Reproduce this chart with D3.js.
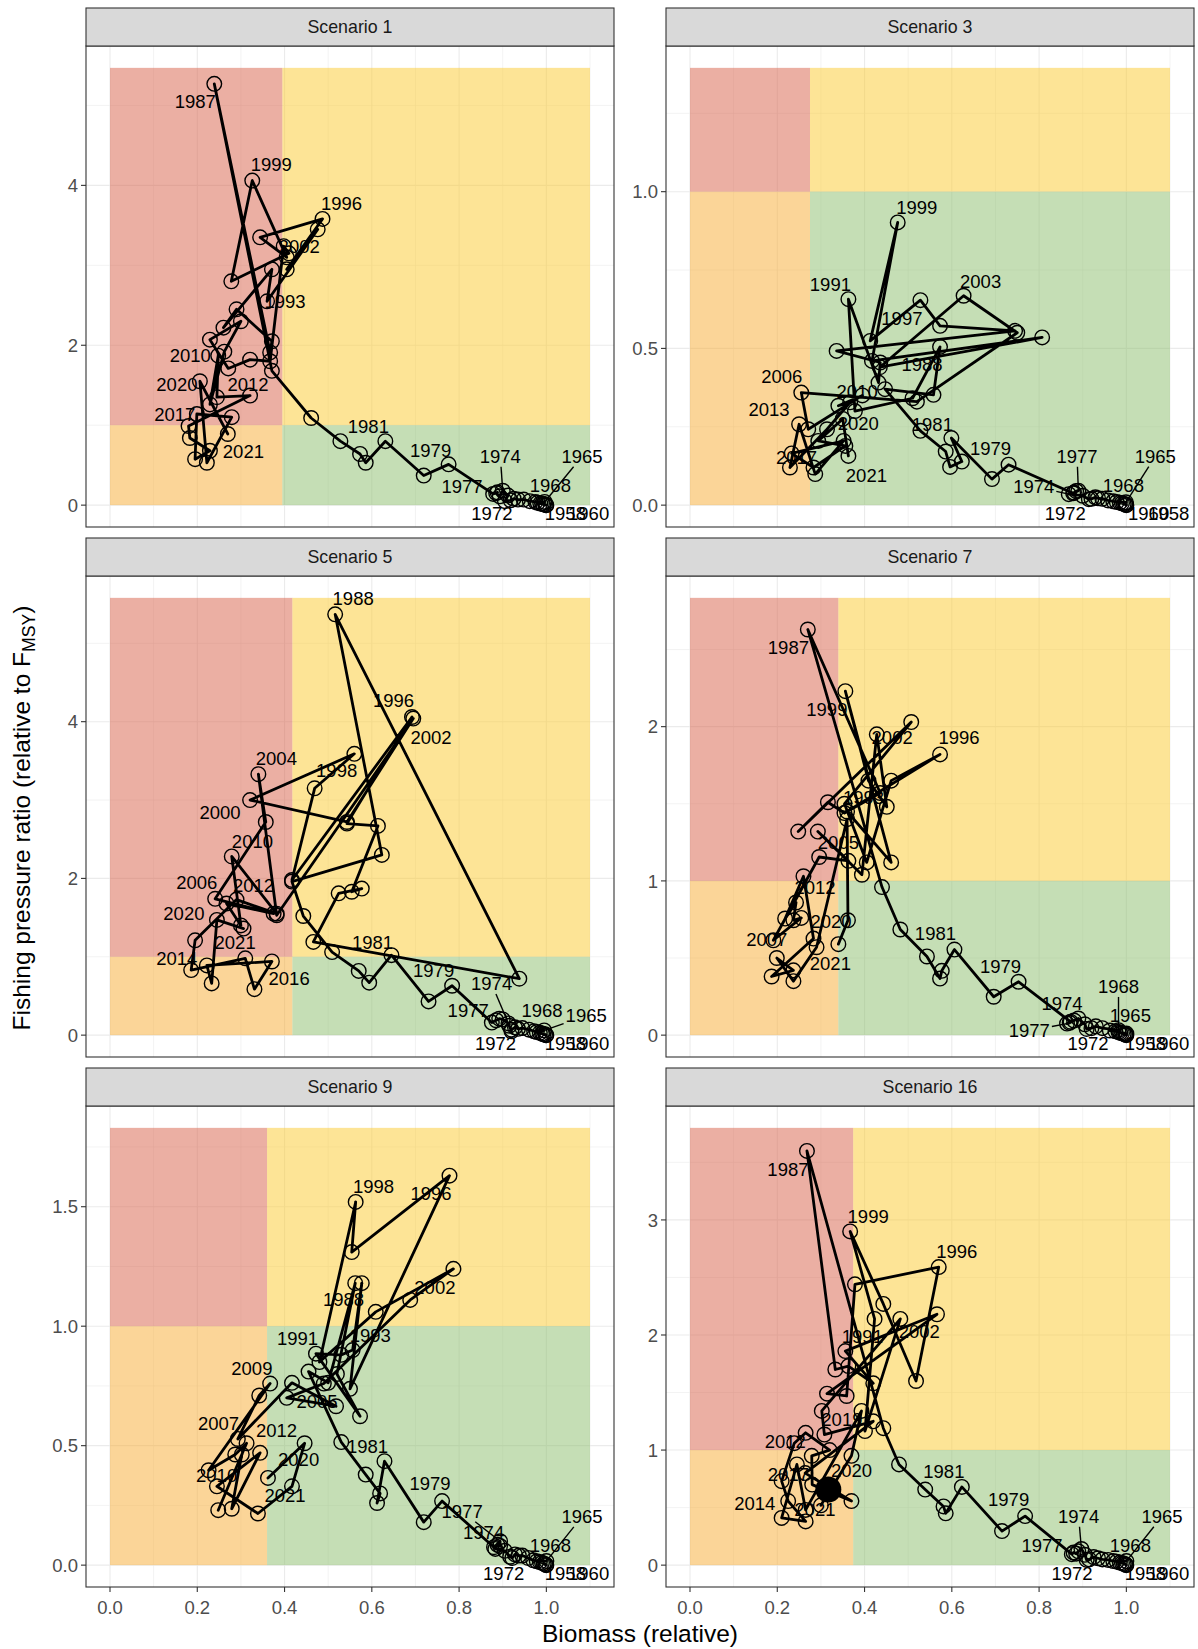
<!DOCTYPE html>
<html><head><meta charset="utf-8">
<script src="https://cdn.jsdelivr.net/npm/d3@7"></script>
<style>
body{margin:0;background:#fff}
text{font-family:"Liberation Sans",Arial,Helvetica,sans-serif}
</style>
</head><body>
<svg id="c" width="1198" height="1649"></svg>
<script>
// ---------------- DATA ----------------
const years = [1958,1959,1960,1961,1962,1963,1964,1965,1966,1967,1968,1969,1970,1971,1972,1973,
1974,1975,1976,1977,1978,1979,1980,1981,1982,1983,1984,1985,1986,1987,1988,1989,
1990,1991,1992,1993,1994,1995,1996,1997,1998,1999,2000,2001,2002,2003,2004,2005,
2006,2007,2008,2009,2010,2011,2012,2013,2014,2015,2016,2017,2018,2019,2020,2021];

const scenarioNames = ["Scenario 1","Scenario 3","Scenario 5","Scenario 7","Scenario 9","Scenario 16"];

// [relative biomass, fishing pressure ratio] by year
const scen1 = [
[1.000,0.00],[0.997,0.01],[0.999,0.00],[0.993,0.01],[0.990,0.02],[0.986,0.02],[0.980,0.03],[0.996,0.04],
[0.975,0.04],[0.962,0.05],[0.948,0.07],[0.935,0.07],[0.925,0.08],[0.918,0.06],[0.905,0.05],[0.912,0.12],
[0.900,0.18],[0.893,0.11],[0.885,0.15],[0.888,0.16],[0.878,0.14],[0.776,0.51],[0.719,0.37],[0.631,0.80],
[0.586,0.53],[0.573,0.64],[0.528,0.80],[0.461,1.09],[0.371,1.68],[0.239,5.27],[0.367,1.91],[0.371,2.05],
[0.290,2.45],[0.260,2.22],[0.371,2.95],[0.360,2.55],[0.476,3.45],[0.405,2.95],[0.487,3.58],[0.344,3.35],
[0.405,3.10],[0.326,4.06],[0.278,2.80],[0.410,3.15],[0.398,3.24],[0.367,1.80],[0.321,1.82],[0.271,1.71],
[0.229,2.07],[0.300,2.30],[0.262,1.92],[0.229,1.26],[0.248,1.87],[0.245,1.35],[0.321,1.37],[0.180,0.99],
[0.183,0.84],[0.229,0.68],[0.195,0.575],[0.199,1.14],[0.279,1.10],[0.222,0.53],[0.206,1.55],[0.270,0.89]];

const scen3 = [
[1.000,0.000],[0.997,0.003],[0.999,0.001],[0.994,0.004],[0.990,0.006],[0.985,0.008],[0.978,0.010],[0.999,0.009],
[0.970,0.012],[0.958,0.015],[0.945,0.020],[0.935,0.022],[0.929,0.025],[0.920,0.020],[0.914,0.019],[0.900,0.030],
[0.868,0.035],[0.880,0.040],[0.885,0.045],[0.890,0.046],[0.878,0.038],[0.730,0.129],[0.692,0.083],[0.599,0.214],
[0.623,0.139],[0.596,0.122],[0.586,0.171],[0.528,0.237],[0.447,0.370],[0.558,0.352],[0.573,0.505],[0.510,0.341],
[0.378,0.300],[0.363,0.657],[0.432,0.391],[0.436,0.455],[0.336,0.492],[0.745,0.556],[0.573,0.572],[0.528,0.654],
[0.413,0.524],[0.476,0.902],[0.417,0.460],[0.807,0.535],[0.435,0.440],[0.627,0.668],[0.750,0.550],[0.520,0.330],
[0.255,0.359],[0.271,0.242],[0.395,0.350],[0.340,0.317],[0.367,0.328],[0.314,0.242],[0.229,0.120],[0.250,0.258],
[0.287,0.099],[0.352,0.205],[0.233,0.165],[0.283,0.120],[0.356,0.189],[0.294,0.205],[0.350,0.275],[0.363,0.157]];

const scen5 = [
[1.000,0.00],[0.997,0.01],[0.999,0.00],[0.993,0.01],[0.990,0.02],[0.985,0.03],[0.978,0.04],[0.995,0.06],
[0.972,0.05],[0.960,0.07],[0.945,0.09],[0.935,0.08],[0.928,0.10],[0.920,0.07],[0.920,0.05],[0.915,0.12],
[0.913,0.15],[0.900,0.20],[0.892,0.21],[0.885,0.19],[0.875,0.16],[0.784,0.63],[0.730,0.43],[0.645,1.02],
[0.594,0.67],[0.570,0.82],[0.509,1.06],[0.443,1.52],[0.417,1.96],[0.623,2.30],[0.516,5.37],[0.938,0.72],
[0.466,1.19],[0.524,1.81],[0.577,1.87],[0.554,1.83],[0.614,2.67],[0.543,2.70],[0.692,4.06],[0.417,1.98],
[0.469,3.15],[0.560,3.59],[0.321,3.00],[0.543,2.72],[0.695,4.04],[0.382,1.53],[0.340,3.33],[0.357,2.72],
[0.241,1.74],[0.375,1.55],[0.267,1.68],[0.300,1.40],[0.279,2.28],[0.382,1.55],[0.290,1.73],[0.195,1.21],
[0.186,0.83],[0.310,0.98],[0.331,0.587],[0.371,0.94],[0.222,0.89],[0.233,0.66],[0.245,1.47],[0.306,1.36]];

const scen7 = [
[1.000,0.000],[0.997,0.005],[0.999,0.002],[0.994,0.008],[0.990,0.012],[0.986,0.015],[0.982,0.020],[1.000,0.010],
[0.975,0.025],[0.962,0.030],[0.982,0.032],[0.945,0.045],[0.930,0.057],[0.920,0.045],[0.909,0.040],[0.905,0.070],
[0.890,0.108],[0.880,0.095],[0.870,0.080],[0.864,0.075],[0.872,0.087],[0.753,0.346],[0.696,0.249],[0.606,0.555],
[0.577,0.417],[0.573,0.367],[0.543,0.510],[0.482,0.685],[0.440,0.960],[0.270,2.630],[0.436,1.570],[0.354,1.440],
[0.316,1.510],[0.248,1.320],[0.507,2.030],[0.354,1.500],[0.405,1.120],[0.461,1.650],[0.573,1.820],[0.360,1.450],
[0.461,1.120],[0.356,2.230],[0.409,1.650],[0.451,1.480],[0.428,1.950],[0.394,1.040],[0.293,1.320],[0.363,1.130],
[0.296,1.155],[0.191,0.615],[0.255,0.760],[0.237,0.745],[0.243,0.860],[0.218,0.756],[0.260,1.030],[0.283,0.626],
[0.187,0.380],[0.237,0.420],[0.199,0.500],[0.237,0.350],[0.290,0.570],[0.360,1.400],[0.362,0.745],[0.340,0.590]];

const scen9 = [
[1.000,0.000],[0.997,0.004],[0.999,0.001],[0.994,0.006],[0.990,0.010],[0.985,0.013],[0.978,0.016],[1.000,0.017],
[0.970,0.020],[0.958,0.030],[0.945,0.040],[0.937,0.040],[0.928,0.045],[0.922,0.030],[0.917,0.035],[0.905,0.060],
[0.883,0.068],[0.888,0.085],[0.894,0.080],[0.894,0.100],[0.880,0.075],[0.761,0.268],[0.719,0.180],[0.629,0.435],
[0.612,0.260],[0.619,0.300],[0.586,0.379],[0.530,0.515],[0.455,0.810],[0.500,0.763],[0.562,1.180],[0.520,0.800],
[0.573,0.623],[0.472,0.885],[0.530,0.880],[0.556,0.900],[0.577,1.180],[0.550,0.738],[0.778,1.630],[0.554,1.310],
[0.563,1.520],[0.480,0.850],[0.609,1.060],[0.787,1.240],[0.688,1.110],[0.490,0.760],[0.405,0.700],[0.518,0.665],
[0.417,0.763],[0.293,0.528],[0.342,0.710],[0.367,0.760],[0.226,0.397],[0.287,0.463],[0.313,0.510],[0.248,0.230],
[0.302,0.463],[0.279,0.236],[0.344,0.470],[0.245,0.330],[0.339,0.216],[0.417,0.330],[0.446,0.510],[0.362,0.365]];

const scen16 = [
[1.000,0.000],[0.997,0.008],[0.999,0.003],[0.994,0.012],[0.990,0.018],[0.985,0.022],[0.978,0.030],[1.000,0.035],
[0.970,0.035],[0.958,0.045],[0.945,0.050],[0.935,0.060],[0.925,0.070],[0.915,0.050],[0.909,0.045],[0.905,0.090],
[0.897,0.140],[0.890,0.120],[0.885,0.100],[0.879,0.110],[0.875,0.095],[0.768,0.426],[0.715,0.296],[0.623,0.680],
[0.586,0.450],[0.581,0.510],[0.539,0.657],[0.479,0.875],[0.443,1.190],[0.268,3.600],[0.333,1.700],[0.363,1.730],
[0.420,1.580],[0.356,1.860],[0.566,2.180],[0.314,1.490],[0.359,1.470],[0.378,2.440],[0.570,2.590],[0.518,1.600],
[0.443,2.270],[0.367,2.900],[0.423,2.140],[0.401,1.165],[0.482,2.140],[0.302,1.340],[0.308,1.135],[0.420,1.250],
[0.264,0.800],[0.370,0.557],[0.280,0.700],[0.279,0.950],[0.320,1.000],[0.265,1.150],[0.239,1.060],[0.210,0.730],
[0.225,0.557],[0.265,0.380],[0.210,0.410],[0.245,0.875],[0.265,0.480],[0.393,1.340],[0.370,0.950],[0.300,0.520]];

// highlighted (filled) point in Scenario 16
const scen16Highlight = [[0.317,0.657]];

// reference zones: biomass limit, F limit, extents
const bLimit = [0.395,0.275,0.418,0.340,0.360,0.374];
const fLimit = 1.0;
const zoneRight = 1.1;
const zoneTop = [5.47,1.395,5.58,2.835,1.83,3.80];

// ticks
const xTicks = [0,0.2,0.4,0.6,0.8,1.0];
const xTickLabels = ["0.0","0.2","0.4","0.6","0.8","1.0"];
const yTicks = [[0,2,4],[0,0.5,1],[0,2,4],[0,1,2],[0,0.5,1,1.5],[0,1,2,3]];
const yTickLabels = [["0","2","4"],["0.0","0.5","1.0"],["0","2","4"],["0","1","2"],["0.0","0.5","1.0","1.5"],["0","1","2","3"]];

// ---------------- LAYOUT (label nudges in px: year, dx, dy, leader) ----------------
const labelLayout = [
 [[1987,-19,17,0],[1999,19,-16.5,0],[1996,19,-16,0],[2002,15.5,0,0],[1993,18,0,0],[2010,-28,0,0],[2020,-23,3.5,0],[2012,-2,-11,0],[2017,-22,0,0],[2021,15.6,17.5,0],[1981,-17,-15,0],[1979,-18,-14.5,0],[1977,-35.5,-6.5,0],[1974,-2.4,-34.3,1],[1968,26.7,-14.4,0],[1965,37.4,-45.5,1],[1972,-13,12.3,0],[1958,19,8.3,0],[1960,42.7,8.3,0]],
 [[1999,19,-15,0],[1991,-18,-15,0],[2003,17,-14,0],[1997,-18.5,18,0],[1988,-18,17,0],[2006,-19.5,-16.5,0],[2010,7,-11,0],[2013,-30,-15,0],[2020,15.5,4,0],[2017,-17,-10,0],[2021,18,19,0],[1981,-19,-13.6,0],[1979,-18,-16.6,0],[1977,-1.3,-34.3,1],[1974,-35,-8,1],[1965,29.4,-46,1],[1968,21,-14,0],[1972,-23.5,14.3,0],[1960,22.7,8.6,0],[1958,42.3,8.3,0]],
 [[1988,18,-16.4,0],[1996,-18.4,-16.4,0],[2002,17.7,18.3,0],[1998,22,-17.7,0],[2004,18,-15.6,0],[2000,-30,12.5,0],[2010,20.7,-14.7,0],[2006,-18.4,-16.6,0],[2012,17,-14,0],[2020,-33,-7,0],[2021,-8.4,13.6,0],[2014,-14.4,-11.3,0],[2016,34.7,-10.4,0],[1981,-19,-13,0],[1979,-18.5,-15.3,0],[1974,-16.8,-39.6,1],[1977,-28,-10,0],[1968,19.7,-18,0],[1965,42,-14.7,1],[1972,-16,12.5,0],[1958,19,8.6,0],[1960,42.7,8.6,0]],
 [[1987,-19.4,17.4,0],[1999,-18.5,18,0],[2002,15.4,3.4,0],[1996,19,-16.7,0],[1993,19,-6.4,0],[2005,-10,-19,0],[2012,11.6,10.6,0],[2020,-17,1.6,0],[2007,-6.6,-1,0],[2021,-8,19,0],[1981,-19,-15.7,0],[1979,-18,-15.3,0],[1974,-16.3,-15.3,0],[1977,-37.7,7.2,1],[1968,0,-43.5,1],[1965,4,-18,0],[1972,1.4,14.8,0],[1958,19,8.6,0],[1960,42.7,8.9,0]],
 [[1998,17.8,-16,0],[1996,-18.5,18,0],[1988,-11.7,16.4,0],[2002,24.7,-13,0],[1991,-18.5,-15.5,0],[1993,17.6,-15.2,0],[2009,-18.3,-15.4,0],[2005,-19,-4.7,0],[2007,-19.4,-15.8,0],[2012,30,-13.4,0],[2020,-6,16,0],[2010,8,4.6,0],[2021,17,17,0],[1981,-17,-15.3,0],[1979,-12,-18,0],[1977,-38,-29.7,1],[1974,-11.7,-16.3,0],[1965,35.7,-44.5,1],[1968,28,-10.7,0],[1972,-6.5,16.3,0],[1958,19,8,0],[1960,42.7,8.3,0]],
 [[1987,-19,18,0],[1999,18,-15,0],[1996,18,-15.4,0],[2002,19,12.5,0],[1991,17,-14.4,0],[2019,-19.6,8.8,0],[2012,-9,-2,0],[2020,0,14.3,0],[2017,-8.5,10.3,0],[2014,-33.4,2,0],[2021,-6,4,0],[1981,-18,-15.4,0],[1979,-16.5,-16.3,0],[1974,-2.8,-32.5,1],[1977,-31.5,-7.4,0],[1968,28,-14.2,0],[1965,35.7,-44.6,1],[1972,-14.6,13.2,0],[1958,19,8,0],[1960,42.7,8.3,0]]
];

const series = [scen1,scen3,scen5,scen7,scen9,scen16];
const highlights = [[],[],[],[],[],scen16Highlight];

// ---------------- DRAW ----------------
const svg = d3.select("#c");
const colX = [86,666], rowY = [46,576,1106], PW = 528, PH = 481, STRIP = 38;
const FONT_LAB = 18.5, FONT_TICK = 18.5, FONT_STRIP = 17.8, FONT_TITLE = 24.5;
const zoneColors = {red:"#D75F47", yellow:"#FBC92D", orange:"#F7AB31", green:"#8BBD6B"};
const defs = svg.append("defs");

scenarioNames.forEach((name,i)=>{
  const col = i%2, row = Math.floor(i/2);
  const x0 = colX[col], y0 = rowY[row];
  const M = zoneTop[i];
  const x = d3.scaleLinear().domain([-0.055,1.155]).range([x0,x0+PW]);
  const y = d3.scaleLinear().domain([-0.05*M,1.05*M]).range([y0+PH,y0]);
  const data = series[i].map((d,k)=>({year:years[k],b:d[0],f:d[1]}));
  const byYear = new Map(data.map(d=>[d.year,d]));

  const clipId = "clip"+i;
  defs.append("clipPath").attr("id",clipId).append("rect")
    .attr("x",x0).attr("y",y0).attr("width",PW).attr("height",PH);

  const g = svg.append("g");
  g.append("rect").attr("x",x0).attr("y",y0).attr("width",PW).attr("height",PH).attr("fill","#fff");

  const inner = g.append("g").attr("clip-path",`url(#${clipId})`);
  // grid
  const [ymin,ymax] = y.domain();
  const ys = yTicks[i][1]-yTicks[i][0];
  const yMinor = [];
  for(let v=yTicks[i][0]-ys/2; v<=ymax; v+=ys){ if(v>=ymin) yMinor.push(v); }
  const xs = xTicks[1]-xTicks[0];
  const xMinor = [];
  for(let v=xTicks[0]-xs/2; v<=1.155; v+=xs){ if(v>=-0.055) xMinor.push(v); }
  inner.selectAll(".xmin").data(xMinor).enter().append("line")
    .attr("x1",d=>x(d)).attr("x2",d=>x(d)).attr("y1",y0).attr("y2",y0+PH)
    .attr("stroke","#EBEBEB").attr("stroke-width",0.6);
  inner.selectAll(".ymin").data(yMinor).enter().append("line")
    .attr("y1",d=>y(d)).attr("y2",d=>y(d)).attr("x1",x0).attr("x2",x0+PW)
    .attr("stroke","#EBEBEB").attr("stroke-width",0.6);
  inner.selectAll(".xmaj").data(xTicks).enter().append("line")
    .attr("x1",d=>x(d)).attr("x2",d=>x(d)).attr("y1",y0).attr("y2",y0+PH)
    .attr("stroke","#EBEBEB").attr("stroke-width",1.1);
  inner.selectAll(".ymaj").data(yTicks[i]).enter().append("line")
    .attr("y1",d=>y(d)).attr("y2",d=>y(d)).attr("x1",x0).attr("x2",x0+PW)
    .attr("stroke","#EBEBEB").attr("stroke-width",1.1);

  // zones
  const zones = [
    {x1:0,x2:bLimit[i],y1:fLimit,y2:M,c:zoneColors.red},
    {x1:bLimit[i],x2:zoneRight,y1:fLimit,y2:M,c:zoneColors.yellow},
    {x1:0,x2:bLimit[i],y1:0,y2:fLimit,c:zoneColors.orange},
    {x1:bLimit[i],x2:zoneRight,y1:0,y2:fLimit,c:zoneColors.green}
  ];
  inner.selectAll(".zone").data(zones).enter().append("rect")
    .attr("x",d=>x(d.x1)).attr("width",d=>x(d.x2)-x(d.x1))
    .attr("y",d=>y(d.y2)).attr("height",d=>y(d.y1)-y(d.y2))
    .attr("fill",d=>d.c).attr("fill-opacity",0.5);

  // path
  const line = d3.line().x(d=>x(d.b)).y(d=>y(d.f));
  inner.append("path").datum(data).attr("d",line)
    .attr("fill","none").attr("stroke","#000").attr("stroke-width",2.8)
    .attr("stroke-linejoin","round").attr("stroke-linecap","round");
  // points
  inner.selectAll(".pt").data(data).enter().append("circle")
    .attr("cx",d=>x(d.b)).attr("cy",d=>y(d.f)).attr("r",7.3)
    .attr("fill","none").attr("stroke","#000").attr("stroke-width",1.4);
  inner.selectAll(".hl").data(highlights[i]).enter().append("circle")
    .attr("cx",d=>x(d[0])).attr("cy",d=>y(d[1])).attr("r",13).attr("fill","#000");

  // labels
  const labs = labelLayout[i].map(l=>{
    const p = byYear.get(l[0]);
    return {year:l[0], px:x(p.b), py:y(p.f), lx:x(p.b)+l[1], ly:y(p.f)+l[2], seg:l[3]};
  });
  labs.filter(d=>d.seg).forEach(d=>{
    const w = 4*0.556*FONT_LAB/2+2, h = FONT_LAB*0.5+1;
    const dx = d.px-d.lx, dy = d.py-d.ly;
    const t = Math.min(dx?Math.abs(w/dx):1e9, dy?Math.abs(h/dy):1e9);
    inner.append("line").attr("x1",d.px).attr("y1",d.py)
      .attr("x2",d.lx+dx*t).attr("y2",d.ly+dy*t)
      .attr("stroke","#000").attr("stroke-width",1.4);
  });
  inner.selectAll(".lab").data(labs).enter().append("text")
    .attr("x",d=>d.lx).attr("y",d=>d.ly).attr("dy","0.36em")
    .attr("text-anchor","middle").attr("font-size",FONT_LAB).attr("fill","#000")
    .text(d=>d.year);

  // border
  g.append("rect").attr("x",x0).attr("y",y0).attr("width",PW).attr("height",PH)
    .attr("fill","none").attr("stroke","#333").attr("stroke-width",1.1);
  // strip
  g.append("rect").attr("x",x0).attr("y",y0-STRIP).attr("width",PW).attr("height",STRIP)
    .attr("fill","#D9D9D9").attr("stroke","#333").attr("stroke-width",1.1);
  g.append("text").attr("x",x0+PW/2).attr("y",y0-STRIP/2).attr("dy","0.36em")
    .attr("text-anchor","middle").attr("font-size",FONT_STRIP).attr("fill","#1A1A1A").text(name);

  // y axis
  yTicks[i].forEach((v,k)=>{
    g.append("line").attr("x1",x0-5).attr("x2",x0).attr("y1",y(v)).attr("y2",y(v))
      .attr("stroke","#333").attr("stroke-width",1.1);
    g.append("text").attr("x",x0-8).attr("y",y(v)).attr("dy","0.36em")
      .attr("text-anchor","end").attr("font-size",FONT_TICK).attr("fill","#4D4D4D")
      .text(yTickLabels[i][k]);
  });
  // x axis (bottom row)
  if(row===2){
    xTicks.forEach((v,k)=>{
      g.append("line").attr("x1",x(v)).attr("x2",x(v)).attr("y1",y0+PH).attr("y2",y0+PH+5)
        .attr("stroke","#333").attr("stroke-width",1.1);
      g.append("text").attr("x",x(v)).attr("y",y0+PH+20).attr("dy","0.36em")
        .attr("text-anchor","middle").attr("font-size",FONT_TICK).attr("fill","#4D4D4D")
        .text(xTickLabels[k]);
    });
  }
});

// axis titles
svg.append("text").attr("x",(colX[0]+colX[1]+PW)/2).attr("y",1633).attr("dy","0.36em")
  .attr("text-anchor","middle").attr("font-size",FONT_TITLE).attr("fill","#000")
  .text("Biomass (relative)");
const yt = svg.append("text").attr("transform","translate(21,818) rotate(-90)")
  .attr("dy","0.36em").attr("text-anchor","middle").attr("font-size",FONT_TITLE).attr("fill","#000");
yt.append("tspan").text("Fishing pressure ratio (relative to F");
yt.append("tspan").attr("font-size",FONT_TITLE*0.72).attr("dy","0.3em").text("MSY");
yt.append("tspan").attr("dy","-0.22em").text(")");
</script>
</body></html>
